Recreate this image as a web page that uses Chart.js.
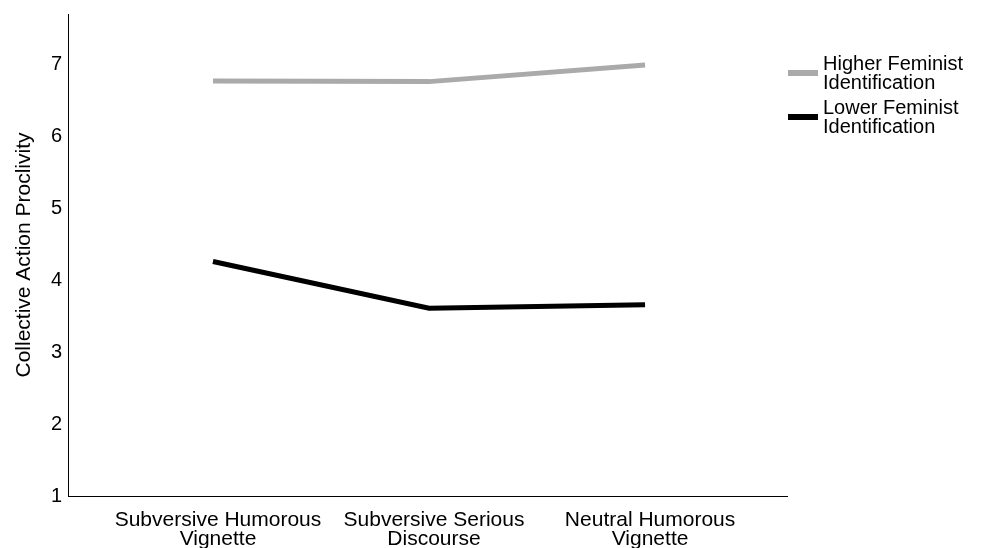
<!DOCTYPE html>
<html>
<head>
<meta charset="utf-8">
<script src="https://cdn.jsdelivr.net/npm/chart.js@4/dist/chart.umd.min.js"></script>
<style>
    html, body { margin: 0; padding: 0; background: #fff; }
    #wrap { position: relative; width: 986px; height: 548px; }
    #legend { position: absolute; left: 788px; top: 54px; font-family: "Liberation Sans", Arial, sans-serif; font-size: 20px; line-height: 19px; color: #000; }
    .item { display: flex; align-items: center; margin-bottom: 6px; }
    .swatch { width: 30px; height: 6px; margin-right: 5px; }
</style>
</head>
<body>
<div id="wrap">
    <canvas id="myChart" width="986" height="548"></canvas>
    <div id="legend"></div>
</div>
<script>
const categories = [
    ['Subversive Humorous', 'Vignette'],
    ['Subversive Serious', 'Discourse'],
    ['Neutral Humorous', 'Vignette']
];
const seriesNames = [
    ['Higher Feminist', 'Identification'],
    ['Lower Feminist', 'Identification']
];
const higherValues = [6.77, 6.76, 6.99];
const lowerValues = [4.26, 3.61, 3.66];
const seriesColors = ['#aaaaaa', '#000000'];
const yTicks = [1, 2, 3, 4, 5, 6, 7];

const font = "'Liberation Sans', Arial, sans-serif";

function points(values) {
    return values.map((v, i) => ({x: i, y: v}));
}

const legend = document.getElementById('legend');
seriesNames.forEach((name, i) => {
    const item = document.createElement('div');
    item.className = 'item';
    item.innerHTML = '<div class="swatch" style="background:' + seriesColors[i] + '"></div><div>' + name.join('<br>') + '</div>';
    legend.appendChild(item);
});

const ctx = document.getElementById('myChart');
new Chart(ctx, {
    type: 'line',
    data: {
        datasets: [
            {
                label: seriesNames[0].join(' '),
                data: points(higherValues),
                borderColor: seriesColors[0],
                borderWidth: 5,
                pointRadius: 0,
                tension: 0
            },
            {
                label: seriesNames[1].join(' '),
                data: points(lowerValues),
                borderColor: seriesColors[1],
                borderWidth: 5,
                pointRadius: 0,
                tension: 0
            }
        ]
    },
    options: {
        responsive: false,
        animation: false,
        layout: {
            padding: {left: 12, right: 199, top: 14, bottom: 0}
        },
        plugins: {
            legend: {display: false},
            tooltip: {enabled: false}
        },
        scales: {
            x: {
                type: 'linear',
                min: -0.671,
                max: 2.657,
                afterBuildTicks: (axis) => {
                    axis.ticks = categories.map((c, i) => ({value: i}));
                },
                afterFit: (axis) => { axis.height = 52; },
                grid: {display: false, drawTicks: false},
                border: {display: true, color: '#000', width: 1},
                ticks: {
                    color: '#000',
                    padding: 15,
                    labelOffset: 5,
                    maxRotation: 0,
                    autoSkip: false,
                    font: {family: font, size: 21, lineHeight: 0.88},
                    callback: (val) => categories[val]
                }
            },
            y: {
                min: 1,
                max: 7.7,
                afterBuildTicks: (axis) => {
                    axis.ticks = yTicks.map(v => ({value: v}));
                },
                afterFit: (axis) => {
                    axis.width = 56;
                    axis.paddingTop = 0;
                },
                grid: {display: false, drawTicks: false},
                border: {display: true, color: '#000', width: 1},
                title: {
                    display: true,
                    text: 'Collective Action Proclivity',
                    color: '#000',
                    font: {family: font, size: 21},
                    padding: {top: 0, bottom: 2}
                },
                ticks: {
                    color: '#000',
                    padding: 6,
                    font: {family: font, size: 20}
                }
            }
        }
    }
});
</script>
</body>
</html>
